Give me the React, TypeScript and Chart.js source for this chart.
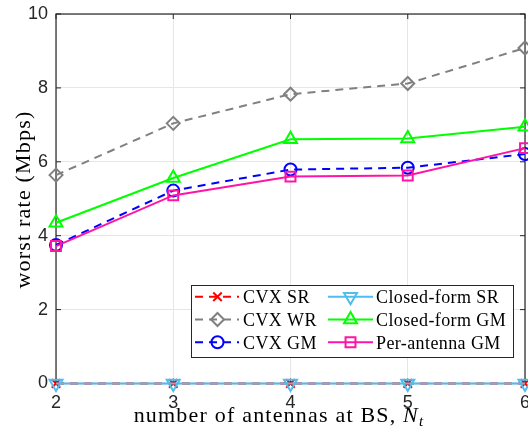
import React, { useEffect, useRef } from 'react';
import { Chart, registerables } from 'chart.js';
import { drawPoint } from 'chart.js/helpers';

Chart.register(...registerables);

// Number of BS antennas N_t (x axis categories)
const antennas = ['2', '3', '4', '5', '6'];

// Worst-user rate in Mbps for each scheme
const cvxSR = [0, 0, 0, 0, 0];
const cvxWR = [5.64, 7.04, 7.83, 8.12, 9.08];
const cvxGM = [3.75, 5.22, 5.79, 5.84, 6.21];
const closedFormSR = [0, 0, 0, 0, 0];
const closedFormGM = [4.35, 5.56, 6.61, 6.63, 6.95];
const perAntennaGM = [3.72, 5.09, 5.6, 5.63, 6.37];

const seriesLabels = ['CVX SR', 'CVX WR', 'CVX GM', 'Closed-form SR', 'Closed-form GM', 'Per-antenna GM'];

const yMin = 0;
const yMax = 10;
const yStep = 2;

const AXIS_COLOR = '#262626';
const GRID_COLOR = '#e6e6e6';
const DASH = [8, 6];
const SERIF = '"Liberation Serif", "Times New Roman", serif';
const SANS = '"Liberation Sans", Arial, Helvetica, sans-serif';

function buildDatasets() {
  const base = [
    { data: cvxSR, color: '#ff0000', dash: DASH, style: 'crossRot', radius: 6, rotation: 0 },
    { data: cvxWR, color: '#808080', dash: DASH, style: 'rectRot', radius: 6.5, rotation: 0 },
    { data: cvxGM, color: '#0000ff', dash: DASH, style: 'circle', radius: 6, rotation: 0 },
    { data: closedFormSR, color: '#4dbeee', dash: [], style: 'triangle', radius: 7.5, rotation: 180 },
    { data: closedFormGM, color: '#00ff00', dash: [], style: 'triangle', radius: 7.5, rotation: 0 },
    { data: perAntennaGM, color: '#ff14a5', dash: [], style: 'rect', radius: 7, rotation: 0 },
  ];
  return base.map((s, i) => ({
    label: seriesLabels[i],
    data: s.data,
    borderColor: s.color,
    borderWidth: 2,
    borderDash: s.dash,
    pointStyle: s.style,
    pointRadius: s.radius,
    pointHoverRadius: s.radius,
    pointRotation: s.rotation,
    pointBorderColor: s.color,
    pointBackgroundColor: 'rgba(0,0,0,0)',
    pointBorderWidth: 2,
    tension: 0,
    fill: false,
    clip: false,
    order: base.length - 1 - i,
  }));
}

// Full axes box with inward tick marks
const axesBoxPlugin = {
  id: 'axesBox',
  beforeDatasetsDraw(chart: any) {
    const { ctx, chartArea } = chart;
    const { left, right, top, bottom } = chartArea;
    const xs = chart.scales.x;
    const ys = chart.scales.y;
    ctx.save();
    ctx.strokeStyle = AXIS_COLOR;
    ctx.lineWidth = 1.2;
    ctx.strokeRect(left, top, right - left, bottom - top);
    ctx.lineWidth = 1;
    const tl = 5;
    ctx.beginPath();
    ys.ticks.forEach((t: any) => {
      const y = ys.getPixelForValue(t.value);
      ctx.moveTo(left, y);
      ctx.lineTo(left + tl, y);
      ctx.moveTo(right, y);
      ctx.lineTo(right - tl, y);
    });
    xs.ticks.forEach((_t: any, i: number) => {
      const x = xs.getPixelForTick(i);
      ctx.moveTo(x, bottom);
      ctx.lineTo(x, bottom - tl);
      ctx.moveTo(x, top);
      ctx.lineTo(x, top + tl);
    });
    ctx.stroke();
    ctx.restore();
  },
};

// Axis titles (the x title carries an italic N with subscript t)
const axisTitlesPlugin = {
  id: 'axisTitles',
  afterDraw(chart: any) {
    const { ctx } = chart;
    ctx.save();
    ctx.fillStyle = '#000';
    (ctx as any).letterSpacing = '1.2px';

    // x title
    const main = 'number of antennas at BS, ';
    ctx.font = `22px ${SERIF}`;
    const wMain = ctx.measureText(main).width;
    ctx.font = `italic 22px ${SERIF}`;
    const wN = ctx.measureText('N').width;
    ctx.font = `italic 15px ${SERIF}`;
    const wSub = ctx.measureText('t').width;
    const total = wMain + wN + wSub;
    let x = 279 - total / 2;
    const baseY = 422;
    ctx.textAlign = 'left';
    ctx.textBaseline = 'alphabetic';
    ctx.font = `22px ${SERIF}`;
    ctx.fillText(main, x, baseY);
    x += wMain;
    ctx.font = `italic 22px ${SERIF}`;
    ctx.fillText('N', x, baseY);
    x += wN;
    ctx.font = `italic 15px ${SERIF}`;
    ctx.fillText('t', x, baseY + 4);

    // y title
    ctx.font = `22px ${SERIF}`;
    ctx.translate(30, 199.5);
    ctx.rotate(-Math.PI / 2);
    ctx.textAlign = 'center';
    ctx.fillText('worst rate (Mbps)', 0, 0);
    ctx.restore();
  },
};

// Two-column boxed legend
const boxedLegendPlugin = {
  id: 'boxedLegend',
  afterDraw(chart: any) {
    const { ctx } = chart;
    const boxL = 191;
    const boxT = 285;
    const boxW = 322;
    const boxH = 72;
    ctx.save();
    ctx.fillStyle = '#ffffff';
    ctx.fillRect(boxL, boxT, boxW, boxH);
    ctx.strokeStyle = AXIS_COLOR;
    ctx.lineWidth = 1;
    ctx.strokeRect(boxL + 0.5, boxT + 0.5, boxW, boxH);

    const cols = [
      { x1: 195, x2: 239, mx: 217.5, tx: 243 },
      { x1: 328, x2: 373, mx: 350.5, tx: 376 },
    ];
    chart.data.datasets.forEach((ds: any, i: number) => {
      const c = cols[i < 3 ? 0 : 1];
      const y = 296.7 + (i % 3) * 22.8;
      ctx.strokeStyle = ds.borderColor;
      ctx.lineWidth = ds.borderWidth;
      ctx.setLineDash(ds.borderDash || []);
      ctx.lineDashOffset = 0;
      ctx.beginPath();
      ctx.moveTo(c.x1, y);
      ctx.lineTo(c.x2, y);
      ctx.stroke();
      ctx.setLineDash([]);
      ctx.strokeStyle = ds.pointBorderColor;
      ctx.lineWidth = ds.pointBorderWidth;
      ctx.fillStyle = 'rgba(0,0,0,0)';
      drawPoint(
        ctx,
        {
          pointStyle: ds.pointStyle,
          rotation: ds.pointRotation,
          radius: ds.pointRadius,
          borderWidth: ds.pointBorderWidth,
        } as any,
        c.mx,
        y
      );
      ctx.fillStyle = '#000';
      ctx.font = `18px ${SERIF}`;
      (ctx as any).letterSpacing = '0.4px';
      ctx.textAlign = 'left';
      ctx.textBaseline = 'alphabetic';
      ctx.fillText(ds.label, c.tx, y + 6.5);
    });
    ctx.restore();
  },
};

export default function App() {
  const canvasRef = useRef<HTMLCanvasElement | null>(null);

  useEffect(() => {
    const canvas = canvasRef.current;
    if (!canvas) return;
    const chart = new Chart(canvas, {
      type: 'line',
      data: { labels: antennas, datasets: buildDatasets() as any },
      options: {
        responsive: false,
        animation: false,
        devicePixelRatio: 1,
        events: [],
        layout: { autoPadding: false, padding: { top: 14, right: 3, left: 0, bottom: 0 } },
        plugins: {
          legend: { display: false },
          tooltip: { enabled: false },
          title: { display: false },
        },
        scales: {
          x: {
            type: 'category',
            offset: false,
            border: { display: false },
            grid: { color: GRID_COLOR, lineWidth: 1, drawTicks: false },
            ticks: {
              color: AXIS_COLOR,
              font: { family: SANS, size: 18 },
              padding: 9,
              maxRotation: 0,
              autoSkip: false,
            },
            afterFit: (s: any) => {
              s.height = 43.5;
              s.paddingLeft = 0;
              s.paddingRight = 0;
            },
          },
          y: {
            type: 'linear',
            min: yMin,
            max: yMax,
            border: { display: false },
            grid: { color: GRID_COLOR, lineWidth: 1, drawTicks: false },
            ticks: {
              stepSize: yStep,
              color: AXIS_COLOR,
              font: { family: SANS, size: 18 },
              padding: 8,
            },
            afterFit: (s: any) => {
              s.width = 56;
              s.paddingTop = 0;
              s.paddingBottom = 0;
            },
          },
        },
      },
      plugins: [axesBoxPlugin, axisTitlesPlugin, boxedLegendPlugin],
    });
    return () => chart.destroy();
  }, []);

  return (
    <div
      style={{
        position: 'fixed',
        left: 0,
        top: 0,
        width: 528,
        height: 427,
        background: '#ffffff',
        overflow: 'hidden',
      }}
    >
      <canvas ref={canvasRef} width={528} height={427} style={{ display: 'block' }} />
    </div>
  );
}
